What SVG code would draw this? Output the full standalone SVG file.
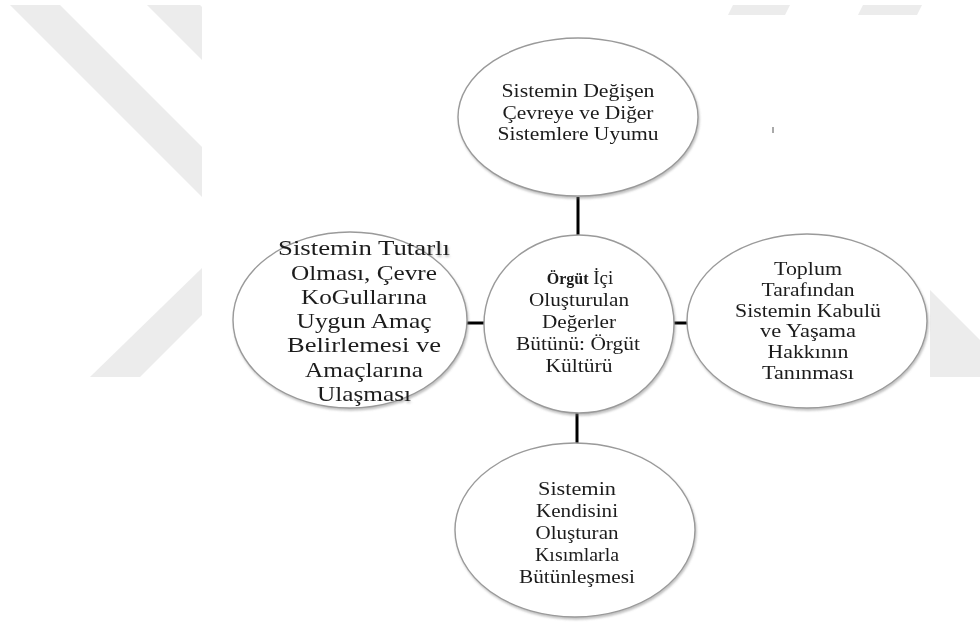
<svg xmlns="http://www.w3.org/2000/svg" width="980" height="625" viewBox="0 0 980 625">
<defs>
<filter id="sh" x="-10%" y="-10%" width="125%" height="130%">
<feDropShadow dx="1" dy="2" stdDeviation="1.2" flood-color="#777" flood-opacity="0.45"/>
</filter>
<style>
.wm{fill:#ececec}
.node{fill:#ffffff;stroke:#9a9a9a;stroke-width:1.4}
.lbl{font-family:"Liberation Serif","Times New Roman",serif;font-size:19px;fill:#1c1c1c;text-anchor:middle}
.con{stroke:#000;stroke-width:3;fill:none}
</style>
</defs>
<rect width="980" height="625" fill="#ffffff"/>
<g id="watermark">
<polygon class="wm" points="10,5 60,5 202,147 202,197"/>
<polygon class="wm" points="147,5 200,5 202,7 202,60"/>
<polygon class="wm" points="202,268 202,315 140,377 90,377"/>
<polygon class="wm" points="930,290 980,340 980,377 930,377"/>
<polygon class="wm" points="733,5 790,5 785,15 728,15"/>
<polygon class="wm" points="863,5 922,5 917,15 858,15"/>
</g>
<g id="connectors">
<line class="con" x1="578" y1="197" x2="578" y2="235"/>
<line class="con" x1="467" y1="323" x2="485" y2="323"/>
<line class="con" x1="673" y1="323" x2="689" y2="323"/>
<line class="con" x1="577" y1="412" x2="577" y2="444"/>
</g>
<g id="top" filter="url(#sh)">
<ellipse class="node" cx="578" cy="117" rx="120" ry="79"/>
<text class="lbl" lengthAdjust="spacingAndGlyphs"><tspan x="578" y="97" textLength="153" lengthAdjust="spacingAndGlyphs">Sistemin Değişen</tspan></text>
<text class="lbl"><tspan x="578" y="118.5" textLength="151" lengthAdjust="spacingAndGlyphs">Çevreye ve Diğer</tspan></text>
<text class="lbl"><tspan x="578" y="140" textLength="161" lengthAdjust="spacingAndGlyphs">Sistemlere Uyumu</tspan></text>
</g>
<g id="center" filter="url(#sh)">
<ellipse class="node" cx="579" cy="324" rx="95" ry="89"/>
<text class="lbl"><tspan x="580" y="284"><tspan style="font-weight:bold;font-size:16px">Örgüt</tspan> İçi</tspan></text>
<text class="lbl"><tspan x="579" y="306" textLength="100" lengthAdjust="spacingAndGlyphs">Oluşturulan</tspan></text>
<text class="lbl"><tspan x="579" y="328" textLength="74" lengthAdjust="spacingAndGlyphs">Değerler</tspan></text>
<text class="lbl"><tspan x="578" y="350" textLength="124" lengthAdjust="spacingAndGlyphs">Bütünü: Örgüt</tspan></text>
<text class="lbl"><tspan x="579" y="372" textLength="67" lengthAdjust="spacingAndGlyphs">Kültürü</tspan></text>
</g>
<g id="left" filter="url(#sh)">
<ellipse class="node" cx="350" cy="320" rx="117" ry="88"/>
<text class="lbl" style="font-size:21px"><tspan x="364" y="255" textLength="172" lengthAdjust="spacingAndGlyphs">Sistemin Tutarlı</tspan></text>
<text class="lbl" style="font-size:21px"><tspan x="364" y="280" textLength="146" lengthAdjust="spacingAndGlyphs">Olması, Çevre</tspan></text>
<text class="lbl" style="font-size:21px"><tspan x="364" y="304" textLength="126" lengthAdjust="spacingAndGlyphs">KoGullarına</tspan></text>
<text class="lbl" style="font-size:21px"><tspan x="364" y="328" textLength="135" lengthAdjust="spacingAndGlyphs">Uygun Amaç</tspan></text>
<text class="lbl" style="font-size:21px"><tspan x="364" y="352" textLength="154" lengthAdjust="spacingAndGlyphs">Belirlemesi ve</tspan></text>
<text class="lbl" style="font-size:21px"><tspan x="364" y="377" textLength="118" lengthAdjust="spacingAndGlyphs">Amaçlarına</tspan></text>
<text class="lbl" style="font-size:21px"><tspan x="364" y="401" textLength="94" lengthAdjust="spacingAndGlyphs">Ulaşması</tspan></text>
</g>
<g id="right" filter="url(#sh)">
<ellipse class="node" cx="807" cy="321" rx="120" ry="87"/>
<text class="lbl"><tspan x="808" y="275" textLength="68" lengthAdjust="spacingAndGlyphs">Toplum</tspan></text>
<text class="lbl"><tspan x="808" y="296" textLength="93" lengthAdjust="spacingAndGlyphs">Tarafından</tspan></text>
<text class="lbl"><tspan x="808" y="317" textLength="146" lengthAdjust="spacingAndGlyphs">Sistemin Kabulü</tspan></text>
<text class="lbl"><tspan x="808" y="337" textLength="96" lengthAdjust="spacingAndGlyphs">ve Yaşama</tspan></text>
<text class="lbl"><tspan x="808" y="358" textLength="81" lengthAdjust="spacingAndGlyphs">Hakkının</tspan></text>
<text class="lbl"><tspan x="808" y="379" textLength="92" lengthAdjust="spacingAndGlyphs">Tanınması</tspan></text>
</g>
<g id="bottom" filter="url(#sh)">
<ellipse class="node" cx="575" cy="530" rx="120" ry="87"/>
<text class="lbl"><tspan x="577" y="495" textLength="78" lengthAdjust="spacingAndGlyphs">Sistemin</tspan></text>
<text class="lbl"><tspan x="577" y="517" textLength="82" lengthAdjust="spacingAndGlyphs">Kendisini</tspan></text>
<text class="lbl"><tspan x="577" y="539" textLength="83" lengthAdjust="spacingAndGlyphs">Oluşturan</tspan></text>
<text class="lbl"><tspan x="577" y="561" textLength="84" lengthAdjust="spacingAndGlyphs">Kısımlarla</tspan></text>
<text class="lbl"><tspan x="577" y="583" textLength="116" lengthAdjust="spacingAndGlyphs">Bütünleşmesi</tspan></text>
</g>
<line x1="773" y1="127" x2="773" y2="133" stroke="#555" stroke-width="1"/>
</svg>
